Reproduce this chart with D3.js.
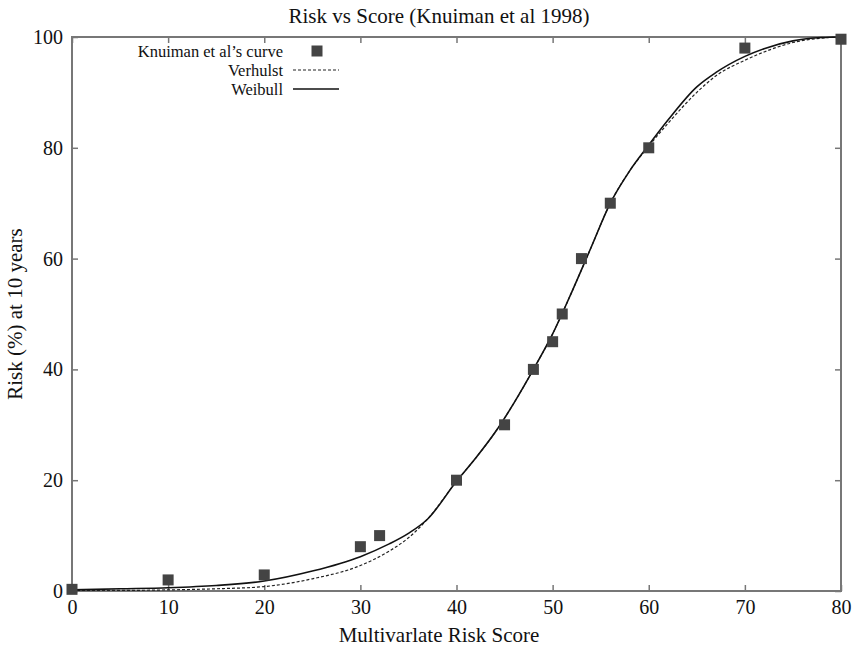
<!DOCTYPE html>
<html><head><meta charset="utf-8">
<script src="https://cdn.jsdelivr.net/npm/d3@7/dist/d3.min.js"></script>
<style>body{margin:0;background:#fff}svg{display:block}text{font-family:"Liberation Serif","Times New Roman",serif;fill:#111}</style>
</head><body><svg id="c" width="854" height="647"></svg>
<script>
const title = "Risk vs Score (Knuiman et al 1998)";
const xLabel = "Multivarlate Risk Score";
const yLabel = "Risk (%) at 10 years";
const xTicks = [0,10,20,30,40,50,60,70,80];
const yTicks = [0,20,40,60,80,100];
const seriesNames = ["Knuiman et al\u2019s curve","Verhulst","Weibull"];
// Knuiman et al's points
const knuX = [0,10,20,30,32,40,45,48,50,51,53,56,60,70,80];
const knuY = [0.3,2,2.9,8,10,20,30,40,45,50,60,70,80,98,99.6];
// Verhulst curve
const verX = [0,5,10,15,20,25,30,33,35,37,40,42,44,46,48,50,52,54,56,58,60,62,65,67,70,72,75,78,80];
const verY = [0.1,0.1,0.2,0.4,0.8,2.2,4.6,7.2,9.6,13,19.8,24,28.6,34,40,46.4,54,62,70,75.8,80.3,84.4,90,93,95.8,97.3,99,99.8,100];
// Weibull curve
const weiX = [0,5,10,15,20,25,30,33,35,37,40,42,44,46,48,50,52,54,56,58,60,62,65,67,70,72,75,78,80];
const weiY = [0.2,0.4,0.6,1.0,1.8,3.6,6.2,8.5,10.4,13,19.8,24,28.6,34,40,46.4,54,62,70,75.8,80.5,85,91,93.6,96.5,97.9,99.3,99.9,100];

const svg = d3.select("#c");
const L=72,R=841,T=37,B=591;
const x = d3.scaleLinear().domain([0,80]).range([L,R]);
const y = d3.scaleLinear().domain([0,100]).range([B,T]);
const frameCol="#777";

const gB = svg.append("g").attr("transform",`translate(0,${B})`)
  .call(d3.axisBottom(x).tickValues(xTicks).tickSize(-6).tickPadding(9).tickFormat(d3.format("d")));
const gT = svg.append("g").attr("transform",`translate(0,${T})`)
  .call(d3.axisTop(x).tickValues(xTicks).tickSize(-6).tickFormat(""));
const gL = svg.append("g").attr("transform",`translate(${L},0)`)
  .call(d3.axisLeft(y).tickValues(yTicks).tickSize(-6).tickPadding(9).tickFormat(d3.format("d")));
const gR = svg.append("g").attr("transform",`translate(${R},0)`)
  .call(d3.axisRight(y).tickValues(yTicks).tickSize(-6).tickFormat(""));
[gB,gT,gL,gR].forEach(g=>{
  g.select(".domain").remove();
  g.selectAll(".tick line").attr("stroke",frameCol).attr("stroke-width",1.5);
  g.selectAll("text").attr("font-size",20).attr("font-family","Liberation Serif, serif").attr("fill","#111");
});
svg.append("rect").attr("x",L).attr("y",T).attr("width",R-L).attr("height",B-T)
  .attr("fill","none").attr("stroke",frameCol).attr("stroke-width",2);

const line = d3.line().x(d=>x(d[0])).y(d=>y(d[1])).curve(d3.curveMonotoneX);
svg.append("path").datum(verX.map((v,i)=>[v,verY[i]])).attr("d",line)
  .attr("fill","none").attr("stroke","#222").attr("stroke-width",1.2).attr("stroke-dasharray","3,2");
svg.append("path").datum(weiX.map((v,i)=>[v,weiY[i]])).attr("d",line)
  .attr("fill","none").attr("stroke","#111").attr("stroke-width",1.6);

const s=11;
svg.append("g").selectAll("rect").data(knuX.map((v,i)=>[v,knuY[i]])).join("rect")
  .attr("x",d=>x(d[0])-s/2).attr("y",d=>y(d[1])-s/2).attr("width",s).attr("height",s).attr("fill","#444");

const lg = svg.append("g");
const ly=[51,70,89];
seriesNames.forEach((n,i)=>{
  lg.append("text").attr("x",283).attr("y",ly[i]+6).attr("text-anchor","end").attr("font-size",16.5).text(n);
});
lg.append("rect").attr("x",317-s/2).attr("y",ly[0]-s/2).attr("width",s).attr("height",s).attr("fill","#444");
lg.append("line").attr("x1",293).attr("x2",339).attr("y1",ly[1]).attr("y2",ly[1]).attr("stroke","#222").attr("stroke-width",1.2).attr("stroke-dasharray","3,2");
lg.append("line").attr("x1",293).attr("x2",339).attr("y1",ly[2]).attr("y2",ly[2]).attr("stroke","#111").attr("stroke-width",1.6);

svg.append("text").attr("x",439).attr("y",23).attr("text-anchor","middle").attr("font-size",21).text(title);
svg.append("text").attr("x",439).attr("y",642).attr("text-anchor","middle").attr("font-size",21).text(xLabel);
svg.append("text").attr("transform",`translate(22,314) rotate(-90)`).attr("text-anchor","middle").attr("font-size",21).text(yLabel);
</script></body></html>
